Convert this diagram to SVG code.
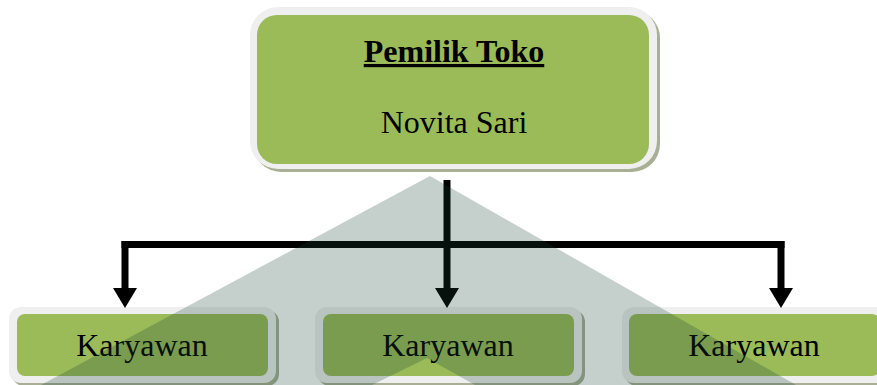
<svg xmlns="http://www.w3.org/2000/svg" width="877" height="385" viewBox="0 0 877 385">
  <defs>
    <style>
      .shadow { fill: #a9af94; }
      .border { fill: #efefef; }
      .fill { fill: #9bbb59; }
      .txt { font-family: "Liberation Serif", "Times New Roman", serif; font-size: 32px; fill: #000; text-anchor: middle; }
      .title { font-weight: bold; text-decoration: underline; }
      .line { stroke: #000; stroke-width: 7; fill: none; }
    </style>
    <marker id="arrow" viewBox="0 0 20 24" refX="0" refY="12" markerWidth="20" markerHeight="24" markerUnits="userSpaceOnUse" orient="auto">
      <path d="M0,0 L20,12 L0,24 Z" fill="#000"/>
    </marker>
  </defs>
  <rect width="877" height="385" fill="#ffffff"/>

  <g id="pemilik">
    <rect class="shadow" x="253" y="10" width="407" height="162" rx="28"/>
    <rect class="border" x="250" y="7" width="407" height="162" rx="28"/>
    <rect class="fill" x="257" y="15" width="392" height="149" rx="20"/>
    <text class="txt title" x="454" y="62">Pemilik Toko</text>
    <text class="txt" x="454" y="133">Novita Sari</text>
  </g>

  <g id="karyawan1">
    <rect class="shadow" x="12" y="310" width="267" height="76" rx="12"/>
    <rect class="border" x="9" y="307" width="267" height="76" rx="12"/>
    <rect class="fill" x="17" y="314" width="251" height="62" rx="8"/>
    <text class="txt" x="142" y="356">Karyawan</text>
  </g>

  <g id="karyawan2">
    <rect class="shadow" x="318" y="310" width="267" height="76" rx="12"/>
    <rect class="border" x="315" y="307" width="267" height="76" rx="12"/>
    <rect class="fill" x="323" y="314" width="251" height="62" rx="8"/>
    <text class="txt" x="448" y="356">Karyawan</text>
  </g>

  <g id="karyawan3">
    <rect class="shadow" x="625" y="310" width="267" height="76" rx="12"/>
    <rect class="border" x="622" y="307" width="267" height="76" rx="12"/>
    <rect class="fill" x="629" y="314" width="251" height="62" rx="8"/>
    <text class="txt" x="754" y="356">Karyawan</text>
  </g>

  <g id="connectors">
    <path class="line" d="M121.5,244.5 L784.5,244.5"/>
    <path class="line" d="M447,180 L447,288" marker-end="url(#arrow)"/>
    <path class="line" d="M125,241 L125,288" marker-end="url(#arrow)"/>
    <path class="line" d="M781,241 L781,288" marker-end="url(#arrow)"/>
  </g>

  <path id="cast-shadow" d="M430,176 L41,385 L372,385 L427,358 L475,385 L796,385 Z" fill="rgb(23,63,47)" fill-opacity="0.25"/>
</svg>
